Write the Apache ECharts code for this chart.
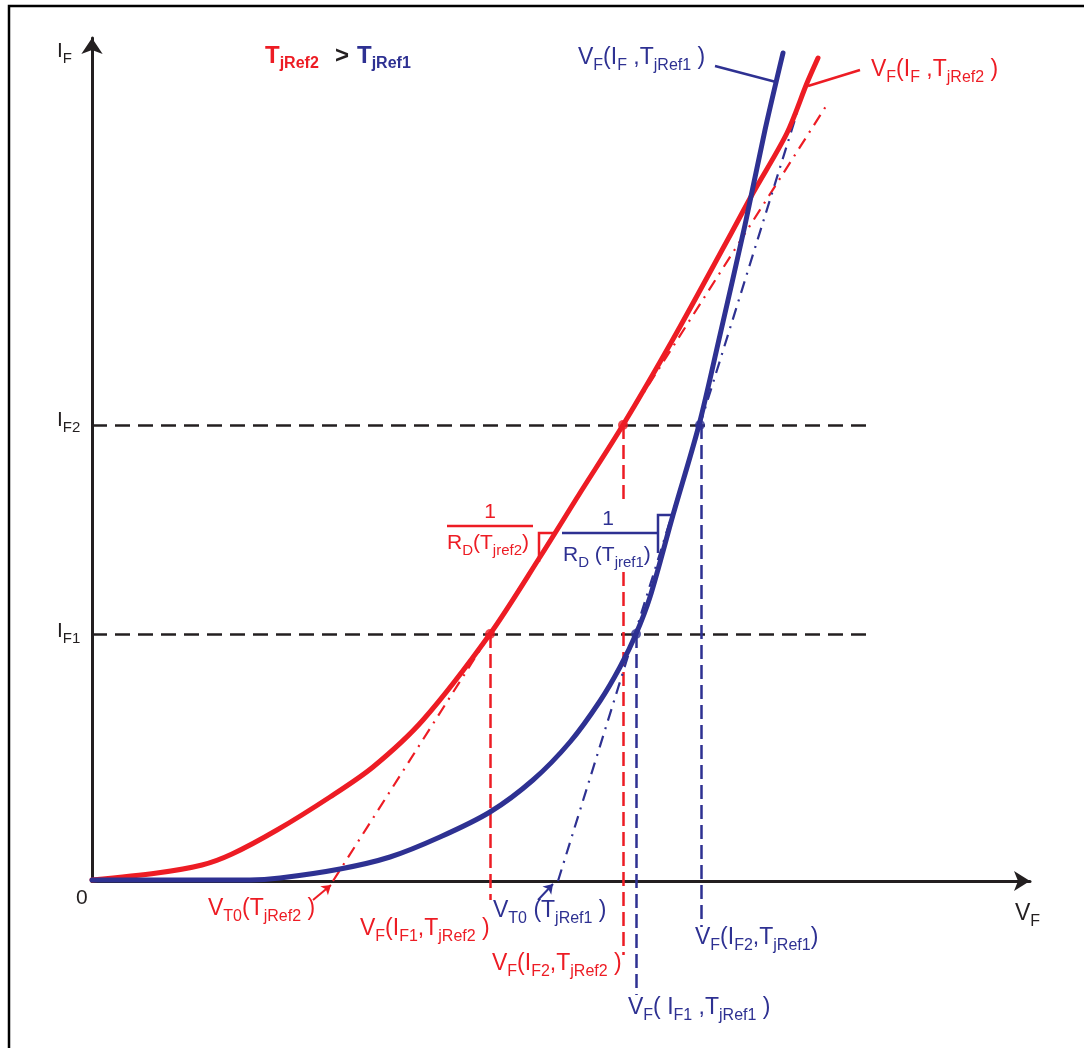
<!DOCTYPE html>
<html><head><meta charset="utf-8">
<script src="https://cdn.jsdelivr.net/npm/echarts@6/dist/echarts.min.js"></script>
<style>html,body{margin:0;padding:0;background:#fff}#c{width:1084px;height:1048px}</style>
</head><body><div id="c"></div>
<script>
const RED = '#ed1c24', BLUE = '#2e3192', BLACK = '#231f20';
const FONT = '"Liberation Sans", Arial, Helvetica, sans-serif';

// ---- data (schematic units: V_F horizontally, I_F vertically) ----
const redCurve = [[0,1],[65,8],[110,16],[140,27],[185,51],[238,84],[281,114],[331,161],[398,247],[448,324],[488,388],[531,456],[580,540],[635,640],[661,688],[695,748],[715,798],[726,823]];
const blueCurve = [[0,1],[158,1],[188,3],[248,12],[298,24],[348,44],[398,69],[441,101],[478,139],[508,180],[528,214],[544,247],[558,284],[581,366],[607,456],[628,546],[653,656],[673,751],[691,828]];
const levelIF1 = 247, levelIF2 = 456;
const redPoints = [[398,247],[531,456]];
const bluePoints = [[544,247],[608,456]];
const redTangent = [[241,0],[736,778]];
const blueTangent = [[466,0],[705,768]];
const levelLines = [[[0,levelIF1],[776,levelIF1]],[[0,levelIF2],[776,levelIF2]]];
const redDrops = [[[398,247],[398,-19]],[[531,456],[531,378]],[[531,309],[531,-74]]];
const blueDrops = [[[544,247],[544,-114]],[[609,456],[609,-46]]];
const redLeader = [[716,795],[768,811]];
const blueLeader = [[623,815],[684,799]];
const redArrow = [[221,-19],[239,-4]];
const blueArrow = [[446,-19],[461,-3]];
const redFractionBar = [[355,355],[441,355]];
const redRightAngle = [[463,348],[447,348],[447,319]];
const blueFractionBar = [[470,348],[566,348]];
const blueRightAngle = [[581,366],[566,366],[566,328]];

// ---- text with subscripts (built from separately measured pieces) ----
const SIZES = { L:[23,16,'normal',8], M:[21,15,'normal',7.5], B:[24,16,'bold',8] };
const COLS = { r:RED, b:BLUE, k:BLACK };
const mctx = document.createElement('canvas').getContext('2d');
function measure(t, size, weight) { mctx.font = weight + ' ' + size + 'px ' + FONT; return mctx.measureText(t).width; }
function pieces(str) { return str.split(/(\{[^}]*\})/).filter(t => t.length).map(t => t[0] === '{' ? {t:t.slice(1,-1), sub:true} : {t:t, sub:false}); }
function lab(str, c, s, x, capY, align) {
  const [F,S,W,D] = SIZES[s];
  const ps = pieces(str);
  const widths = ps.map(p => measure(p.t, p.sub ? S : F, W));
  const total = widths.reduce((a,b) => a+b, 0);
  let cx = align === 'center' ? x - total/2 : x;
  const out = [];
  ps.forEach((p, i) => {
    out.push({ type:'text', x:cx, y:p.sub ? capY + D : capY, silent:true, z:100,
      style:{ text:p.t, fill:COLS[c], fontSize:p.sub ? S : F, fontFamily:FONT, fontWeight:W, align:'left', verticalAlign:'middle' } });
    cx += widths[i];
  });
  return out;
}

const graphics = [
  { type:'rect', shape:{x:9, y:6, width:1200, height:1200}, style:{fill:'none', stroke:'#000', lineWidth:2.5}, silent:true },
  ...lab('I{F}', 'k', 'M', 57, 51),
  ...lab('I{F2}', 'k', 'M', 57, 420),
  ...lab('I{F1}', 'k', 'M', 57, 631),
  ...lab('0', 'k', 'M', 76, 898),
  ...lab('V{F}', 'k', 'L', 1015, 914),
  ...lab('T{jRef2}', 'r', 'B', 265, 56),
  ...lab('>', 'k', 'B', 335, 56),
  ...lab('T{jRef1}', 'b', 'B', 357, 56),
  ...lab('V{F}(I{F} ,T{jRef1} )', 'b', 'L', 578, 58),
  ...lab('V{F}(I{F} ,T{jRef2} )', 'r', 'L', 871, 70),
  ...lab('V{T0}(T{jRef2} )', 'r', 'L', 208, 909),
  ...lab('V{T0} (T{jRef1} )', 'b', 'L', 493, 911),
  ...lab('V{F}(I{F1},T{jRef2} )', 'r', 'L', 360, 929),
  ...lab('V{F}(I{F2},T{jRef2} )', 'r', 'L', 492, 964),
  ...lab('V{F}(I{F2},T{jRef1})', 'b', 'L', 695, 938),
  ...lab('V{F}( I{F1} ,T{jRef1} )', 'b', 'L', 628, 1008),
  ...lab('1', 'r', 'M', 490, 512, 'center'),
  ...lab('R{D}(T{jref2})', 'r', 'M', 447, 543),
  ...lab('1', 'b', 'M', 608, 519, 'center'),
  ...lab('R{D} (T{jref1})', 'b', 'M', 563, 555)
];

const seg = arr => arr.map(c => ({ coords:c }));

const option = {
  animation:false,
  grid:{ left:92, top:38, width:938, height:843 },
  xAxis:{ type:'value', min:0, max:938, splitLine:{show:false}, axisTick:{show:false}, axisLabel:{show:false},
    axisLine:{ show:true, onZero:true, symbol:['none','arrow'], symbolSize:[15,16], lineStyle:{color:BLACK, width:3} } },
  yAxis:{ type:'value', min:0, max:843, splitLine:{show:false}, axisTick:{show:false}, axisLabel:{show:false},
    axisLine:{ show:true, onZero:true, symbol:['none','arrow'], symbolSize:[16,16], lineStyle:{color:BLACK, width:3} } },
  graphic: graphics,
  series:[
    { type:'lines', coordinateSystem:'cartesian2d', clip:false, z:2, data:seg(levelLines),
      lineStyle:{ color:BLACK, width:2.5, type:[15,8], opacity:1 } },
    { type:'lines', coordinateSystem:'cartesian2d', clip:false, z:2, data:seg(redDrops),
      lineStyle:{ color:RED, width:2.5, type:[14,6], opacity:1 } },
    { type:'lines', coordinateSystem:'cartesian2d', clip:false, z:2, data:seg(blueDrops),
      lineStyle:{ color:BLUE, width:2.5, type:[14,6], opacity:1 } },
    { type:'line', data:redTangent, symbol:'none', clip:false, z:3,
      lineStyle:{ color:RED, width:2.2, type:[12,7,2,7] } },
    { type:'line', data:blueTangent, symbol:'none', clip:false, z:3,
      lineStyle:{ color:BLUE, width:2.2, type:[12,7,2,7] } },
    { type:'line', data:redCurve, symbol:'none', smooth:0.3, clip:false, z:4,
      lineStyle:{ color:RED, width:5, cap:'round', join:'round' } },
    { type:'line', data:blueCurve, symbol:'none', smooth:0.3, clip:false, z:4,
      lineStyle:{ color:BLUE, width:5, cap:'round', join:'round' } },
    { type:'lines', coordinateSystem:'cartesian2d', clip:false, z:5, polyline:true,
      data:[{coords:redLeader},{coords:redFractionBar},{coords:redRightAngle}],
      lineStyle:{ color:RED, width:2.5, opacity:1 } },
    { type:'lines', coordinateSystem:'cartesian2d', clip:false, z:5, polyline:true,
      data:[{coords:blueLeader},{coords:blueFractionBar},{coords:blueRightAngle}],
      lineStyle:{ color:BLUE, width:2.5, opacity:1 } },
    { type:'lines', coordinateSystem:'cartesian2d', clip:false, z:5, symbol:['none','arrow'], symbolSize:9,
      data:[{coords:redArrow}], lineStyle:{ color:RED, width:2, opacity:1 } },
    { type:'lines', coordinateSystem:'cartesian2d', clip:false, z:5, symbol:['none','arrow'], symbolSize:9,
      data:[{coords:blueArrow}], lineStyle:{ color:BLUE, width:2, opacity:1 } },
    { type:'scatter', data:redPoints, symbolSize:10, clip:false, z:6, itemStyle:{ color:RED } },
    { type:'scatter', data:bluePoints, symbolSize:10, clip:false, z:6, itemStyle:{ color:BLUE } }
  ]
};
const chart = echarts.init(document.getElementById('c'), null, { renderer:'canvas' });
chart.setOption(option);
</script>
</body></html>
